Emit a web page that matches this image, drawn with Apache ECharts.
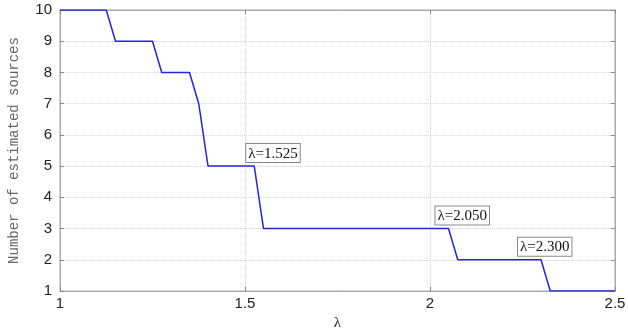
<!DOCTYPE html>
<html>
<head>
<meta charset="utf-8">
<script src="https://cdn.jsdelivr.net/npm/echarts@6/dist/echarts.min.js"></script>
<style>
  html, body { margin: 0; padding: 0; background: #fff; }
  #chart { width: 628px; height: 332px; }
</style>
</head>
<body>
<div id="chart"></div>
<script>
// lambda values and estimated source count
const lambdas = [1.0, 1.125, 1.15, 1.25, 1.275, 1.35, 1.375, 1.4, 1.525, 1.55, 2.05, 2.075, 2.3, 2.325, 2.5];
const sources = [10, 10, 9, 9, 8, 8, 7, 5, 5, 3, 3, 2, 2, 1, 1];

// annotated change points
const noteLambdas = [1.525, 2.05, 2.3];
const noteSources = [5, 3, 2];
const noteTexts = ['λ=1.525', 'λ=2.050', 'λ=2.300'];

const xTicks = [1, 1.5, 2, 2.5];
const yTicks = [1, 2, 3, 4, 5, 6, 7, 8, 9, 10];

// pixel offset of each text box from its point
const noteOffsets = [[-8, -22], [-13, -22], [-23, -22]];

const chart = echarts.init(document.getElementById('chart'));

const gridLine = { show: true, lineStyle: { color: '#d4d4d4', type: 'dotted', width: 1 } };
const tickFont = { color: '#222', fontSize: 15, fontFamily: 'Liberation Sans' };

const option = {
    animation: false,
    backgroundColor: '#fff',
    grid: {
        left: 60, right: 13, top: 10, bottom: 41,
        outerBoundsMode: 'none',
        containLabel: false,
        show: true, borderColor: '#aaa', borderWidth: 1
    },
    xAxis: [
        {
            type: 'value',
            min: xTicks[0], max: xTicks[xTicks.length - 1], interval: 0.5,
            name: 'λ',
            nameLocation: 'middle',
            nameGap: 25,
            nameTextStyle: { color: '#222', fontSize: 15, fontFamily: 'Liberation Serif' },
            axisLine: { lineStyle: { color: '#aaa' } },
            axisTick: { inside: true, length: 4, lineStyle: { color: '#888' } },
            axisLabel: Object.assign({ margin: 5 }, tickFont),
            splitLine: gridLine
        },
        {
            type: 'value', position: 'top',
            min: xTicks[0], max: xTicks[xTicks.length - 1], interval: 0.5,
            axisLine: { lineStyle: { color: '#aaa' } },
            axisTick: { inside: true, length: 4, lineStyle: { color: '#888' } },
            axisLabel: { show: false },
            splitLine: { show: false }
        }
    ],
    yAxis: [
        {
            type: 'value',
            min: yTicks[0], max: yTicks[yTicks.length - 1], interval: 1,
            name: 'Number of estimated sources',
            nameLocation: 'middle',
            nameGap: 39,
            nameTextStyle: { color: '#666', fontSize: 14, fontFamily: 'Liberation Mono' },
            axisLine: { lineStyle: { color: '#aaa' } },
            axisTick: { inside: true, length: 4, lineStyle: { color: '#888' } },
            axisLabel: Object.assign({ margin: 8 }, tickFont),
            splitLine: gridLine
        },
        {
            type: 'value', position: 'right',
            min: yTicks[0], max: yTicks[yTicks.length - 1], interval: 1,
            axisLine: { lineStyle: { color: '#aaa' } },
            axisTick: { inside: true, length: 4, lineStyle: { color: '#888' } },
            axisLabel: { show: false },
            splitLine: { show: false }
        }
    ],
    series: [
        {
            type: 'line',
            data: lambdas.map((l, i) => [l, sources[i]]),
            showSymbol: false,
            lineStyle: { color: '#2424d8', width: 1.5 },
            itemStyle: { color: '#2424d8' },
            markPoint: {
                symbol: 'circle',
                symbolSize: 0,
                data: noteLambdas.map((l, i) => ({
                    coord: [l, noteSources[i]],
                    label: {
                        show: true,
                        formatter: noteTexts[i],
                        position: noteOffsets[i],
                        color: '#111',
                        fontSize: 15,
                        fontFamily: 'Liberation Serif',
                        backgroundColor: '#fff',
                        borderColor: '#888',
                        borderWidth: 1,
                        padding: [2, 2, 1, 2]
                    }
                }))
            }
        }
    ]
};

chart.setOption(option);
</script>
</body>
</html>
